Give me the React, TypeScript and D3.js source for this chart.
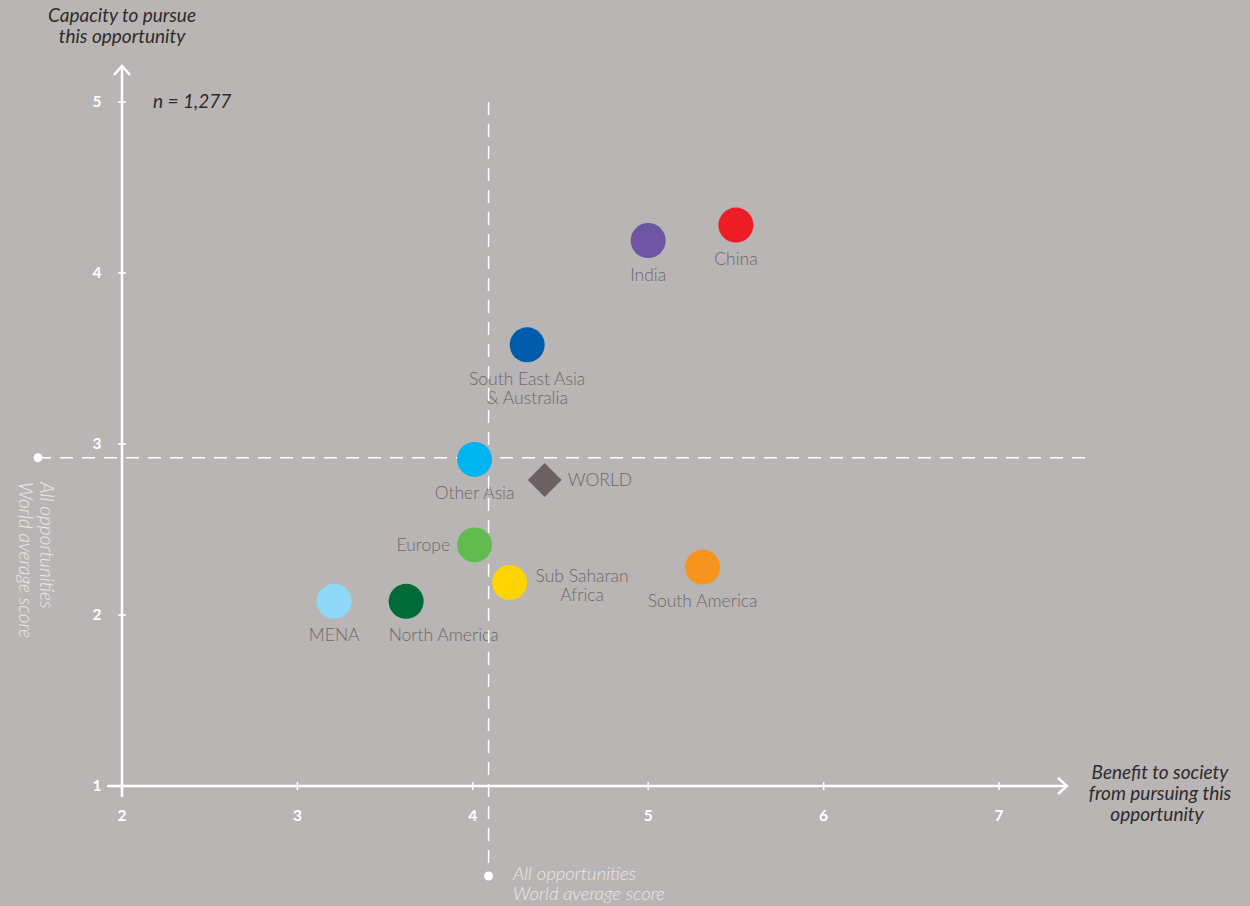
import React from "react";
import * as d3 from "d3";

const regions = ["China", "India", "South East Asia|& Australia", "Other Asia", "Europe", "Sub Saharan|Africa", "South America", "MENA", "North America"];
const benefit = [5.5, 5.0, 4.31, 4.01, 4.01, 4.21, 5.31, 3.21, 3.62];
const capacity = [4.28, 4.19, 3.58, 2.91, 2.41, 2.19, 2.28, 2.08, 2.08];
const colors = ["#ee1c25", "#6c55a3", "#005bac", "#00b5ef", "#62bb4f", "#ffd400", "#f7941d", "#8fd8f8", "#006b37"];
const placement = ["below", "below", "below", "below", "left", "right", "below", "below", "belowLeft"];
const worldPoint = { label: "WORLD", x: 4.41, y: 2.79 };
const avgBenefit = 4.09;
const avgCapacity = 2.92;
const xTicks = [2, 3, 4, 5, 6, 7];
const yTicks = [1, 2, 3, 4, 5];

const W = 1250, H = 906;
const FONT = "Lato, 'Noto Sans', sans-serif";

export default function App() {
  const x = d3.scaleLinear().domain([2, 7]).range([122, 999]);
  const y = d3.scaleLinear().domain([1, 5]).range([786, 102]);
  const labelColor = "#6e6868";
  const r = 17.5;
  const diamond = d3.symbol().type(d3.symbolSquare).size(24 * 24)();

  return (
    <svg width={W} height={H} style={{ position: "absolute", left: 0, top: 0, background: "#b9b5b5" }} fontFamily={FONT}>
      <rect x={0} y={0} width={W} height={H} fill="#b9b5b5" />
      {/* axis titles */}
      <text x={122} y={22} textAnchor="middle" fontSize={19} fontStyle="italic" fill="#2e2b2b">
        <tspan x={122}>Capacity to pursue</tspan>
        <tspan x={122} dy={21}>this opportunity</tspan>
      </text>
      <text x={153} y={108} fontSize={19} fontStyle="italic" fill="#2e2b2b">n = 1,277</text>
      <text x={1160} y={779} textAnchor="middle" fontSize={19} fontStyle="italic" fill="#2e2b2b">
        <tspan x={1160}>Benefit to society</tspan>
        <tspan x={1160} dy={21}>from pursuing this</tspan>
        <tspan x={1157} dy={21}>opportunity</tspan>
      </text>

      {/* labels (under dashed lines) */}
      {regions.map((name, i) => {
        const cx = x(benefit[i]);
        const cy = y(capacity[i]);
        const lines = name.split("|");
        let tx = cx, ty = cy + 40, anchor: any = "middle";
        if (placement[i] === "left") { tx = cx - r - 7; ty = cy + 6; anchor = "end"; }
        if (placement[i] === "right") { tx = cx + r + 55; ty = cy - 1; anchor = "middle"; }
        if (placement[i] === "belowLeft") { tx = cx - r; anchor = "start"; }
        return (
          <text key={"l" + i} x={tx} y={ty} textAnchor={anchor} fontSize={17.5} fill={labelColor} fontWeight={300}>
            {lines.map((ln, j) => (
              <tspan key={j} x={tx} dy={j === 0 ? 0 : 19}>{ln}</tspan>
            ))}
          </text>
        );
      })}
      <text x={x(worldPoint.x) + 23} y={y(worldPoint.y) + 6} fontSize={17.5} fill={labelColor} fontWeight={300}>{worldPoint.label}</text>

      {/* average lines */}
      <line x1={38} x2={1085} y1={y(avgCapacity)} y2={y(avgCapacity)} stroke="#fff" strokeWidth={1.5} strokeDasharray="13 9" />
      <circle cx={38} cy={y(avgCapacity)} r={4.5} fill="#fff" />
      <line x1={x(avgBenefit)} x2={x(avgBenefit)} y1={y(5)} y2={876} stroke="#fff" strokeWidth={1.5} strokeDasharray="13 9" />
      <circle cx={x(avgBenefit)} cy={876} r={4.5} fill="#fff" />
      <text transform={`translate(40,482) rotate(90)`} fontSize={19} fontStyle="italic" fill="#ebe7e7" fontWeight={300}>
        <tspan x={0} dy={0}>All opportunities</tspan>
        <tspan x={0} dy={21}>World average score</tspan>
      </text>
      <text x={513} y={880} fontSize={18.5} fontStyle="italic" fill="#ebe7e7" fontWeight={300}>
        <tspan x={513}>All opportunities</tspan>
        <tspan x={513} dy={20}>World average score</tspan>
      </text>

      {/* axes */}
      <line x1={107} x2={1066} y1={y(1)} y2={y(1)} stroke="#fff" strokeWidth={2.5} />
      <path d={`M${1058},${y(1) - 8} L${1067},${y(1)} L${1058},${y(1) + 8}`} fill="none" stroke="#fff" strokeWidth={2.5} />
      <line x1={x(2)} x2={x(2)} y1={797} y2={68} stroke="#fff" strokeWidth={2.5} />
      <path d={`M${x(2) - 8},${75} L${x(2)},${66} L${x(2) + 8},${75}`} fill="none" stroke="#fff" strokeWidth={2.5} />
      {xTicks.map((t) => (
        <g key={"xt" + t}>
          <line x1={x(t)} x2={x(t)} y1={y(1) - 4} y2={y(1) + 4} stroke="#fff" strokeWidth={1.5} />
          <text x={x(t)} y={821} textAnchor="middle" fontSize={15.5} fontWeight={700} fill="#fff">{t}</text>
        </g>
      ))}
      {yTicks.map((t) => (
        <g key={"yt" + t}>
          <line x1={x(2) - 4} x2={x(2) + 4} y1={y(t)} y2={y(t)} stroke="#fff" strokeWidth={1.5} />
          <text x={97} y={y(t) + 5} textAnchor="middle" fontSize={15.5} fontWeight={700} fill="#fff">{t}</text>
        </g>
      ))}

      {/* points */}
      {regions.map((name, i) => (
        <circle key={"c" + i} cx={x(benefit[i])} cy={y(capacity[i])} r={r} fill={colors[i]} />
      ))}
      <path d={diamond!} transform={`translate(${x(worldPoint.x)},${y(worldPoint.y)}) rotate(45)`} fill="#6b6163" />
    </svg>
  );
}
